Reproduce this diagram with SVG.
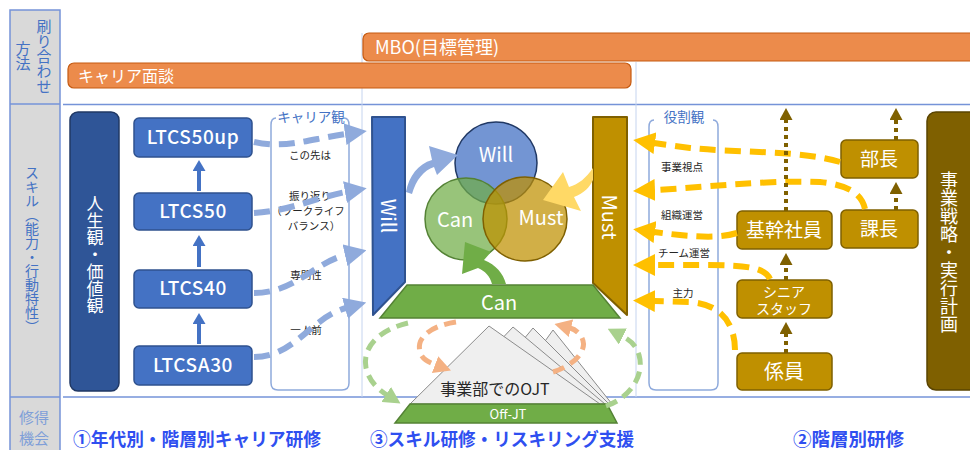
<svg xmlns="http://www.w3.org/2000/svg" width="970" height="450" viewBox="0 0 970 450">
  <defs>
    <style>
      text { font-family: "Noto Sans CJK JP", "Noto Sans", sans-serif; }
      .hdr { fill: #d9d9d9; stroke: #7593d8; stroke-width: 1.5; }
      .hdrtx { fill: #4472c4; font-size: 15px; }
      .vert { writing-mode: vertical-rl; text-anchor: middle; }
      .sep { stroke: #7593d8; stroke-width: 1.5; fill: none; }
      .thin { stroke: #c5d4ef; stroke-width: 1; fill: none; }
      .bar { fill: #ec8b4b; stroke: #c55a11; stroke-width: 1.2; }
      .bartx { fill: #ffffff; font-size: 17px; }
      .ltcs { fill: #4472c4; stroke: #2f528f; stroke-width: 1.5; }
      .ltcstx { fill: #ffffff; font-size: 19px; font-weight: 500; text-anchor: middle; letter-spacing: 0.6px; }
      .gold { fill: #bf9000; stroke: #7f6000; stroke-width: 1.5; }
      .goldtx { fill: #ffffff; font-size: 19px; text-anchor: middle; }
      .brk { fill: none; stroke: #8faadc; stroke-width: 1.5; }
      .brktx { fill: #4472c4; font-size: 13.5px; text-anchor: middle; }
      .note { fill: #262626; font-size: 10.5px; text-anchor: middle; }
      .wht { fill: #ffffff; text-anchor: middle; }
      .dBlue { fill: none; stroke: #8faadc; stroke-width: 6; stroke-dasharray: 16 9; }
      .dYel { fill: none; stroke: #ffc000; stroke-width: 6; stroke-dasharray: 16 9; }
      .dGrn { fill: none; stroke: #a9d18e; stroke-width: 5; stroke-dasharray: 12 7; }
      .dOrg { fill: none; stroke: #f4b183; stroke-width: 5; stroke-dasharray: 12 7; }
      .dot { fill: none; stroke: #7f6000; stroke-width: 4; stroke-dasharray: 4 4; }
      .up { stroke: #4472c4; stroke-width: 4; }
      .tri { fill: #efefef; stroke: #8c8c8c; stroke-width: 1; }
      .grn { fill: #70ad47; stroke: #548235; stroke-width: 1.5; }
      .foot { fill: #2f4ff0; font-size: 18.5px; font-weight: bold; }
    </style>
    <marker id="mBlue" markerUnits="userSpaceOnUse" markerWidth="22" markerHeight="22" refX="1" refY="11" orient="auto">
      <path d="M0,0 L22,11 L0,22 Z" fill="#8faadc"/>
    </marker>
    <marker id="mYel" markerUnits="userSpaceOnUse" markerWidth="22" markerHeight="22" refX="1" refY="11" orient="auto">
      <path d="M0,0 L22,11 L0,22 Z" fill="#ffc000"/>
    </marker>
    <marker id="mGrn" markerUnits="userSpaceOnUse" markerWidth="17" markerHeight="18" refX="1" refY="9" orient="auto">
      <path d="M0,0 L17,9 L0,18 Z" fill="#a9d18e"/>
    </marker>
    <marker id="mOrg" markerUnits="userSpaceOnUse" markerWidth="17" markerHeight="18" refX="1" refY="9" orient="auto">
      <path d="M0,0 L17,9 L0,18 Z" fill="#f4b183"/>
    </marker>
    <marker id="mBrown" markerUnits="userSpaceOnUse" markerWidth="12" markerHeight="13" refX="0" refY="6.5" orient="auto">
      <path d="M0,0 L12,6.5 L0,13 Z" fill="#7f6000"/>
    </marker>
    <marker id="mUp" markerUnits="userSpaceOnUse" markerWidth="11" markerHeight="13" refX="0" refY="6.5" orient="auto">
      <path d="M0,0 L11,6.5 L0,13 Z" fill="#4472c4"/>
    </marker>
  </defs>

  <rect width="970" height="450" fill="#ffffff"/>

  <!-- row header column -->
  <g id="row-headers">
    <rect class="hdr" x="10" y="10" width="50" height="450"/>
    <line class="sep" x1="10" y1="104" x2="60" y2="104"/>
    <line class="sep" x1="10" y1="397" x2="60" y2="397"/>
    <text class="hdrtx vert" x="44" y="56">刷り合わせ</text>
    <text class="hdrtx vert" x="23" y="56">方法</text>
    <text class="hdrtx vert" x="32" y="250" style="font-size:14px">スキル（能力・行動特性）</text>
    <text class="hdrtx" x="34" y="423" text-anchor="middle" style="fill:#7f9fd8">修得</text>
    <text class="hdrtx" x="34" y="444" text-anchor="middle" style="fill:#7f9fd8">機会</text>
  </g>

  <!-- grid lines -->
  <g id="grid">
    <line class="sep" x1="63" y1="104.5" x2="970" y2="104.5"/>
    <line class="sep" x1="63" y1="397" x2="970" y2="397"/>
    <line class="thin" x1="362" y1="33" x2="362" y2="397"/>
    <line class="thin" x1="636" y1="62" x2="636" y2="397"/>
  </g>

  <!-- alignment bars -->
  <g id="bar-mbo">
    <rect class="bar" x="363" y="33" width="620" height="28" rx="6"/>
    <text class="bartx" x="375" y="54" style="font-size:18px">MBO(目標管理)</text>
  </g>
  <g id="bar-career">
    <rect class="bar" x="68" y="63" width="563" height="25" rx="6"/>
    <text class="bartx" x="78" y="81.5" style="font-size:16px">キャリア面談</text>
  </g>

  <!-- left: life values and age tiers -->
  <g id="values">
    <rect x="70" y="112" width="49" height="279" rx="8" fill="#2f5597" stroke="#203864" stroke-width="1.5"/>
    <text class="vert" x="95" y="255" style="fill:#fff;font-size:17px">人生観・価値観</text>
  </g>
  <g id="ltcs50up">
    <rect class="ltcs" x="134" y="118" width="118" height="39" rx="5"/>
    <text class="ltcstx" x="193" y="144">LTCS50up</text>
  </g>
  <g id="ltcs50">
    <rect class="ltcs" x="134" y="193" width="118" height="37" rx="5"/>
    <text class="ltcstx" x="193" y="218">LTCS50</text>
  </g>
  <g id="ltcs40">
    <rect class="ltcs" x="134" y="270" width="118" height="38" rx="5"/>
    <text class="ltcstx" x="193" y="295">LTCS40</text>
  </g>
  <g id="ltcsa30">
    <rect class="ltcs" x="134" y="346" width="118" height="39" rx="5"/>
    <text class="ltcstx" x="193" y="372">LTCSA30</text>
  </g>

  <g id="career-view">
    <path class="brk" d="M276,118 Q271,118 271,125 L271,383 Q271,390 278,390 L342,390 Q349,390 349,383 L349,125 Q349,118 344,118"/>
    <text class="brktx" x="311" y="122">キャリア観</text>
    <text class="note" x="310" y="159">この先は</text>
    <text class="note" x="310" y="200">振り返り</text>
    <text class="note" x="308" y="215">（ワークライフ</text>
    <text class="note" x="314" y="230">バランス）</text>
    <text class="note" x="306" y="279">専門性</text>
    <text class="note" x="306" y="334">一人前</text>
  </g>

  <!-- centre: Will / Can / Must -->
  <g id="will-bar">
    <polygon points="372,117 405,117 405,282 373,315" fill="#4472c4" stroke="#2f528f" stroke-width="2" stroke-linejoin="round"/>
    <text class="wht" transform="translate(388,216) rotate(90)" dy="7" style="font-size:20px">Will</text>
  </g>
  <g id="must-bar">
    <polygon points="593,117 627,117 627,315 593,283" fill="#bf9000" stroke="#7f6000" stroke-width="2" stroke-linejoin="round"/>
    <text class="wht" transform="translate(609,217) rotate(90)" dy="7" style="font-size:20px">Must</text>
  </g>
  <g id="can-base">
    <polygon class="grn" points="407,285 593,285 620,318 380,318"/>
    <text class="wht" x="499" y="310" style="font-size:20px">Can</text>
  </g>
  <g id="circles">
    <circle cx="496" cy="163" r="41" fill="#4472c4" fill-opacity="0.75" stroke="#203864" stroke-width="1.5"/>
    <circle cx="466" cy="219" r="41" fill="#70ad47" fill-opacity="0.72" stroke="#548235" stroke-width="1.5"/>
    <circle cx="525" cy="219" r="42" fill="#bf9000" fill-opacity="0.72" stroke="#7f6000" stroke-width="1.5"/>
    <text class="wht" x="496" y="162" style="font-size:20px">Will</text>
    <text class="wht" x="455" y="227" style="font-size:20px">Can</text>
    <text class="wht" x="541" y="225" style="font-size:20px">Must</text>
  </g>

  <!-- OJT stack and Off-JT base -->
  <g id="ojt">
    <polygon class="tri" points="553,330 612,404 500,404"/>
    <polygon class="tri" points="533,328 609,404 470,404"/>
    <polygon class="tri" points="513,327 605,404 440,404"/>
    <polygon class="tri" points="489,326 600,404 410,404"/>
    <text x="495" y="395" text-anchor="middle" style="fill:#262626;font-size:16px">事業部でのOJT</text>
  </g>
  <g id="off-jt">
    <polygon class="grn" points="410,404 607,404 617,423 395,423"/>
    <text class="wht" x="508" y="419" style="font-size:13px">Off-JT</text>
  </g>

  <!-- right: roles -->
  <g id="role-view">
    <path class="brk" d="M654,120 Q649,120 649,127 L649,383 Q649,390 656,390 L711,390 Q718,390 718,383 L718,127 Q718,120 713,120"/>
    <text class="brktx" x="684" y="122">役割観</text>
    <text class="note" x="682" y="171">事業視点</text>
    <text class="note" x="682" y="219">組織運営</text>
    <text class="note" x="684" y="257">チーム運営</text>
    <text class="note" x="683" y="297">主力</text>
  </g>
  <g id="kikan">
    <rect class="gold" x="737" y="211" width="95" height="38" rx="5"/>
    <text class="goldtx" x="784" y="237">基幹社員</text>
  </g>
  <g id="senior">
    <rect class="gold" x="737" y="280" width="95" height="38" rx="5"/>
    <text class="goldtx" style="font-size:14px"><tspan x="784" y="297">シニア</tspan><tspan x="784" y="313.5">スタッフ</tspan></text>
  </g>
  <g id="kakari">
    <rect class="gold" x="737" y="353" width="95" height="37" rx="5"/>
    <text class="goldtx" x="784" y="379" style="font-size:20px">係員</text>
  </g>
  <g id="bucho">
    <rect class="gold" x="841" y="140" width="77" height="38" rx="5"/>
    <text class="goldtx" x="879" y="166">部長</text>
  </g>
  <g id="kacho">
    <rect class="gold" x="841" y="210" width="77" height="38" rx="5"/>
    <text class="goldtx" x="879" y="236">課長</text>
  </g>
  <g id="strategy">
    <rect x="927" y="112" width="60" height="278" rx="9" fill="#7f6000" stroke="#5a4400" stroke-width="1.5"/>
    <text class="vert" x="949" y="252" style="fill:#fff;font-size:18px">事業戦略・実行計画</text>
  </g>

  <!-- connectors -->
  <g id="connectors">
    <!-- tier progression -->
    <line class="up" x1="199" y1="191" x2="199" y2="171" marker-end="url(#mUp)"/>
    <line class="up" x1="199" y1="267" x2="199" y2="246" marker-end="url(#mUp)"/>
    <line class="up" x1="199" y1="344" x2="199" y2="324" marker-end="url(#mUp)"/>

    <!-- career view into Will -->
    <path class="dBlue" d="M254,142 C285,149 310,139 346,134" marker-end="url(#mBlue)"/>
    <path class="dBlue" d="M254,213 C290,211 318,197 346,192" marker-end="url(#mBlue)"/>
    <path class="dBlue" d="M254,293 C295,293 315,262 346,255" marker-end="url(#mBlue)"/>
    <path class="dBlue" d="M254,357 C295,357 310,318 346,308" marker-end="url(#mBlue)"/>

    <!-- bars feeding circles -->
    <path d="M406,192 C409,176 418,164 432,160 L429,146 L458,155 L437,175 L434,167 C424,170 416,180 412,194 Z" fill="#8faadc"/>
    <path d="M593,168 C586,178 579,184 569,187 L563,172 L543,200 L581,211 L574,197 C584,193 590,187 593,180 Z" fill="#ffd966"/>
    <path d="M492,284 C490,276 485,271 478,268 L462,274 L465,242 L491,252 L484,260 C496,265 503,273 506,284 Z" fill="#70ad47"/>

    <!-- OJT / Off-JT cycles -->
    <path class="dGrn" d="M408,323 C378,330 362,348 366,368 C369,380 376,388 387,395" marker-end="url(#mGrn)"/>
    <path class="dGrn" d="M606,406 C630,398 645,375 639,355 C636,345 630,340 622,336" marker-end="url(#mGrn)"/>
    <path class="dOrg" d="M456,322 C430,326 416,338 420,352 C422,359 428,362 436,365" marker-end="url(#mOrg)"/>
    <path class="dOrg" d="M553,372 C575,365 588,350 582,338 C579,332 574,329 570,328" marker-end="url(#mOrg)"/>

    <!-- role view into Must -->
    <path class="dYel" d="M840,162 C800,150 740,153 690,148 L654,143" marker-end="url(#mYel)"/>
    <path class="dYel" d="M865,209 C862,195 850,185 820,182 C760,180 700,188 654,190" marker-end="url(#mYel)"/>
    <path class="dYel" d="M737,233 C720,238 700,238 654,232" marker-end="url(#mYel)"/>
    <path class="dYel" d="M770,279 C765,268 750,265 700,265 L654,265" marker-end="url(#mYel)"/>
    <path class="dYel" d="M735,350 C735,325 722,304 690,302 L654,301" marker-end="url(#mYel)"/>

    <!-- role ladder -->
    <line class="dot" x1="786" y1="353" x2="786" y2="334" marker-end="url(#mBrown)"/>
    <line class="dot" x1="786" y1="280" x2="786" y2="265" marker-end="url(#mBrown)"/>
    <line class="dot" x1="786" y1="211" x2="786" y2="120" marker-end="url(#mBrown)"/>
    <line class="dot" x1="896" y1="210" x2="896" y2="194" marker-end="url(#mBrown)"/>
    <line class="dot" x1="896" y1="140" x2="896" y2="120" marker-end="url(#mBrown)"/>
  </g>

  <!-- training programmes -->
  <g id="programmes">
    <text class="foot" x="73" y="446" textLength="248" lengthAdjust="spacingAndGlyphs">①年代別・階層別キャリア研修</text>
    <text class="foot" x="370" y="446" textLength="264" lengthAdjust="spacingAndGlyphs">③スキル研修・リスキリング支援</text>
    <text class="foot" x="793" y="446">②階層別研修</text>
  </g>
</svg>
